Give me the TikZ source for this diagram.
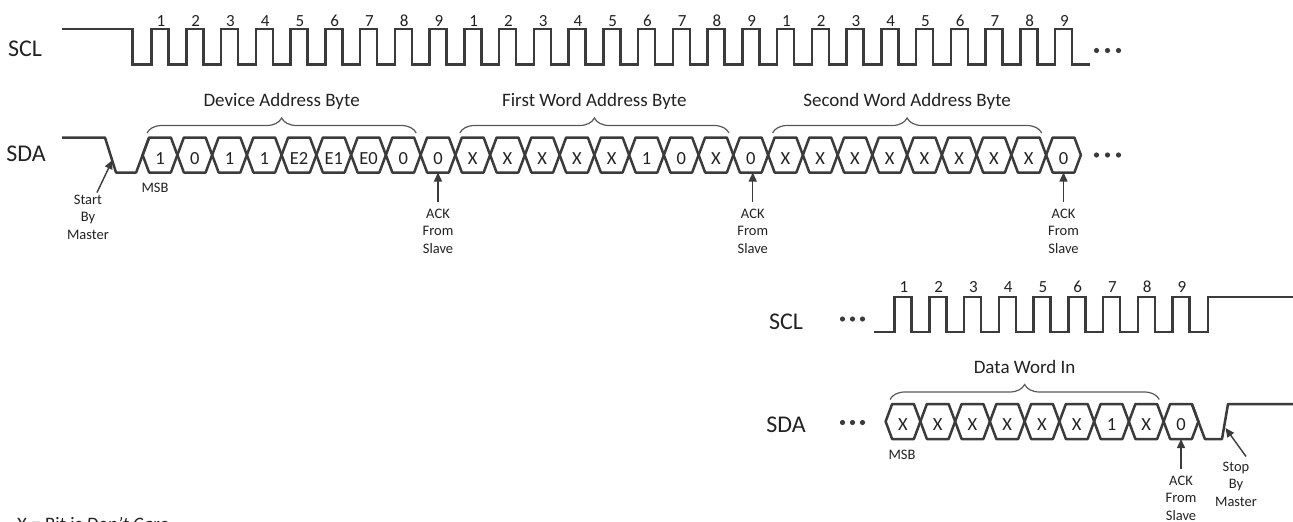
\documentclass[tikz,border=0pt]{standalone}
\usepackage{fontspec}
\setmainfont{Carlito}
\usetikzlibrary{arrows.meta,decorations.pathreplacing}

\definecolor{sig}{HTML}{3B3B3B}
\definecolor{txt}{HTML}{222222}

\tikzset{
 wave/.style={line width=2.5pt, draw=sig},
 cellwave/.style={line width=2.5pt, draw=sig, line join=round},
 brc/.style={decorate, decoration={brace, amplitude=15pt}, line width=1.2pt, draw=sig!85},
 arr/.style={-{Triangle[length=9pt,width=8pt]}, line width=1.4pt, draw=sig},
 signame/.style={font=\fontsize{24}{28}\selectfont, text=txt, inner sep=0pt},
 bitnum/.style={font=\fontsize{17}{20}\selectfont, text=txt, inner sep=0pt, anchor=base},
 bitval/.style={font=\fontsize{18.5}{22}\selectfont, text=txt, inner sep=0pt, anchor=base},
 bytelbl/.style={font=\fontsize{19}{23}\selectfont, text=txt, inner sep=0pt, anchor=base},
 note/.style={font=\fontsize{14.5}{17.5}\selectfont, text=txt, inner sep=0pt, align=center, anchor=north},
}

% 六角形のデータセル: #1 中心x, #2 上端y, #3 下端y
\newcommand{\hexcell}[3]{%
 \draw[cellwave] ({#1-17.375},{(#2+#3)/2}) -- ({#1-10.875},#2) -- ({#1+10.875},#2)
  -- ({#1+17.375},{(#2+#3)/2}) -- ({#1+10.875},#3) -- ({#1-10.875},#3) -- cycle;}

\begin{document}
\begin{tikzpicture}[x=1pt,y=-1pt]
 \useasboundingbox (0,0) rectangle (1293,522);

 % 上段
 \node[signame] (sclA) at (25,49.2) {SCL};
 \node[signame] (sdaA) at (26,154.2) {SDA};

 \draw[wave] (62,29) -- (132.7,29) -- (132.7,64.5)
  \foreach \k in {0,...,26}{ -- ({151.5+34.75*\k},64.5) -- ++(0,-35.5) -- ++(17,0) -- ++(0,35.5) }
  -- (1090,64.5); % SCL
 \foreach \k in {0,...,26}{
  \pgfmathtruncatemacro{\n}{mod(\k,9)+1}
  \node[bitnum] (nA\k) at ({161+34.75*\k},27) {\n};
 }

 \draw[cellwave] (62,137.5) -- (105,137.5) -- (116,172.5) -- (136.125,172.5) -- (149.125,137.5); % Start
 \foreach \v [count=\k from 0] in {1,0,1,1,E2,E1,E0,0,0,X,X,X,X,X,1,0,X,0,X,X,X,X,X,X,X,X,0}{
  \pgfmathsetmacro{\cx}{160+34.75*\k}
  \hexcell{\cx}{137.5}{172.5}
  \node[bitval] (cA\k) at (\cx,164) {\v};
 }

 \foreach \d in {1096.5,1107.5,1118.5}{
  \fill[sig] (\d,50.5) circle (2.6pt);
  \fill[sig] (\d,155) circle (2.6pt);
 }

 \draw[brc] (147,133) -- (416.25,133) node[bytelbl, midway, yshift=27pt] (devL) {Device Address Byte};
 \draw[brc] (459.75,133) -- (729,133) node[bytelbl, midway, yshift=27pt] (fwL) {First Word Address Byte};
 \draw[brc] (772.5,133) -- (1041.75,133) node[bytelbl, midway, yshift=27pt] (swL) {Second Word Address Byte};

 \node[note, anchor=center] (msbA) at (155,188) {MSB};
 \node[note] (startL) at (88,194.5) {Start\\By\\Master};
 \coordinate (startTip) at (112.5,160);
 \draw[arr] ([xshift=9pt,yshift=2pt]startL.north) -- (startTip);

 \node[note] (ackA) at (438,208.5) {ACK\\From\\Slave};
 \node[note] (ackB) at (752.75,208.5) {ACK\\From\\Slave};
 \node[note] (ackC) at (1063.5,208.5) {ACK\\From\\Slave};
 \coordinate (ackTipA) at (438,172.5);
 \coordinate (ackTipB) at (752.75,172.5);
 \coordinate (ackTipC) at (1063.5,172.5);
 \draw[arr] ([yshift=6.5pt]ackA.north) -- (ackTipA);
 \draw[arr] ([yshift=6.5pt]ackB.north) -- (ackTipB);
 \draw[arr] ([yshift=6.5pt]ackC.north) -- (ackTipC);

 % 下段
 \node[signame] (sclB) at (786,321.7) {SCL};
 \node[signame] (sdaB) at (786,425) {SDA};
 \foreach \d in {842.5,852.5,862.5}{
  \fill[sig] (\d,319) circle (2.6pt);
  \fill[sig] (\d,422.5) circle (2.6pt);
 }

 \draw[wave] (874,332)
  \foreach \k in {0,...,8}{ -- ({894.5+34.75*\k},332) -- ++(0,-35) -- ++(17,0) -- ++(0,35) }
  -- (1208,332) -- (1208,297) -- (1293,297); % SCL
 \foreach \k in {0,...,8}{
  \pgfmathtruncatemacro{\n}{\k+1}
  \node[bitnum] (nB\k) at ({904+34.75*\k},292) {\n};
 }

 \foreach \v [count=\k from 0] in {X,X,X,X,X,X,1,X,0}{
  \pgfmathsetmacro{\cx}{903+34.75*\k}
  \hexcell{\cx}{404}{439}
  \node[bitval] (cB\k) at (\cx,430.5) {\v};
 }
 \draw[cellwave] (1191.875,404) -- (1204.875,439) -- (1222,439) -- (1228,404) -- (1293,404); % Stop

 \draw[brc] (890,399.5) -- (1159.25,399.5) node[bytelbl, midway, yshift=26.5pt] (dwL) {Data Word In};

 \node[note, anchor=center] (msbB) at (902,455) {MSB};
 \node[note] (ackD) at (1181,475.5) {ACK\\From\\Slave};
 \coordinate (ackTipD) at (1181,439);
 \draw[arr] ([yshift=6.5pt]ackD.north) -- (ackTipD);

 \node[note] (stopL) at (1236,461.5) {Stop\\By\\Master};
 \coordinate (stopTip) at (1225.5,428);
 \draw[arr] ([xshift=10pt,yshift=5pt]stopL.north) -- (stopTip);

 \node[anchor=base west, font=\fontsize{19}{23}\selectfont, text=txt, inner sep=0pt] (keyX) at (17,530) {X = Bit is \textit{Don't Care}};
\end{tikzpicture}
\end{document}
